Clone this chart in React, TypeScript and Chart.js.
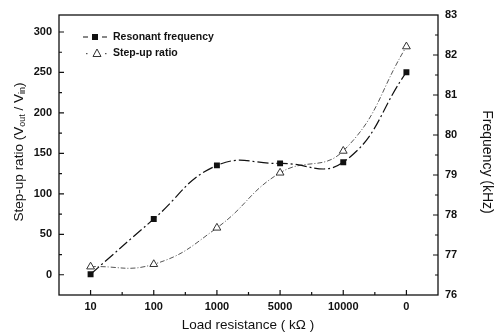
import React, { useEffect, useRef } from 'react';
import { Chart, registerables } from 'chart.js';

Chart.register(...registerables);

const categories = ['10', '100', '1000', '5000', '10000', '0'];
const stepUpRatio = [10, 13, 58, 126, 153, 282];
const resonantFrequency = [76.52, 77.9, 79.24, 79.29, 79.32, 81.57];
const leftTicks = [0, 50, 100, 150, 200, 250, 300];
const rightTicks = [76, 77, 78, 79, 80, 81, 82, 83];
const legendLabels = ['Resonant frequency', 'Step-up ratio'];
const xTitle = 'Load resistance ( k\u03A9 )';
const rightTitle = 'Frequency (kHz)';

const FONT = "'Liberation Sans', Arial, sans-serif";
const INK = '#111';

const decorPlugin = {
  id: 'decor',
  afterDraw(chart: any) {
    const ctx = chart.ctx as CanvasRenderingContext2D;
    const ca = chart.chartArea;
    const ys = chart.scales.y;
    const y1 = chart.scales.y1;
    const xs = chart.scales.x;
    ctx.save();
    // frame
    ctx.strokeStyle = INK;
    ctx.lineWidth = 1.3;
    ctx.setLineDash([]);
    ctx.strokeRect(ca.left, ca.top, ca.right - ca.left, ca.bottom - ca.top);
    // inward ticks
    ctx.lineWidth = 1.2;
    ctx.beginPath();
    for (let v = 0; v <= 300; v += 25) {
      const p = ys.getPixelForValue(v);
      const len = v % 50 === 0 ? 5 : 3;
      ctx.moveTo(ca.left, p);
      ctx.lineTo(ca.left + len, p);
    }
    for (let v = 76.5; v < 83; v += 0.5) {
      const p = y1.getPixelForValue(v);
      const len = Number.isInteger(v) ? 5 : 3;
      ctx.moveTo(ca.right - len, p);
      ctx.lineTo(ca.right, p);
    }
    for (let i = 0; i < categories.length; i++) {
      const p = xs.getPixelForValue(i);
      ctx.moveTo(p, ca.bottom);
      ctx.lineTo(p, ca.bottom - 5);
      if (i < categories.length - 1) {
        const m = (p + xs.getPixelForValue(i + 1)) / 2;
        ctx.moveTo(m, ca.bottom);
        ctx.lineTo(m, ca.bottom - 3);
      }
    }
    ctx.stroke();

    // legend
    ctx.fillStyle = INK;
    ctx.strokeStyle = INK;
    ctx.lineWidth = 1;
    ctx.beginPath();
    ctx.moveTo(83, 37); ctx.lineTo(88, 37);
    ctx.moveTo(102, 37); ctx.lineTo(107, 37);
    ctx.stroke();
    ctx.fillRect(92, 34, 6, 6);
    ctx.fillStyle = '#555';
    ctx.fillRect(86, 53, 1.5, 1.2);
    ctx.fillRect(105, 53, 1.5, 1.2);
    ctx.strokeStyle = '#333';
    ctx.beginPath();
    ctx.moveTo(97, 49);
    ctx.lineTo(101, 56.5);
    ctx.lineTo(93, 56.5);
    ctx.closePath();
    ctx.stroke();
    ctx.fillStyle = INK;
    ctx.font = `bold 10.5px ${FONT}`;
    ctx.textAlign = 'left';
    ctx.textBaseline = 'middle';
    ctx.fillText(legendLabels[0], 113, 37);
    ctx.fillText(legendLabels[1], 113, 53);

    // x title
    ctx.font = `13.5px ${FONT}`;
    ctx.textAlign = 'center';
    ctx.fillText(xTitle, 248, 325);

    // right title
    ctx.save();
    ctx.translate(487, 162);
    ctx.rotate(Math.PI / 2);
    ctx.font = `14px ${FONT}`;
    ctx.textAlign = 'center';
    ctx.textBaseline = 'middle';
    ctx.fillText(rightTitle, 0, 0);
    ctx.restore();

    // left title with subscripts
    const big = `13.5px ${FONT}`;
    const small = `9px ${FONT}`;
    const parts: [string, boolean][] = [
      ['Step-up ratio (V', false],
      ['out', true],
      [' / V', false],
      ['in', true],
      [')', false],
    ];
    let total = 0;
    const widths = parts.map(([t, sub]) => {
      ctx.font = sub ? small : big;
      const w = ctx.measureText(t).width;
      total += w;
      return w;
    });
    ctx.save();
    ctx.translate(19, 152);
    ctx.rotate(-Math.PI / 2);
    ctx.textAlign = 'left';
    ctx.textBaseline = 'middle';
    let x = -total / 2;
    parts.forEach(([t, sub], i) => {
      ctx.font = sub ? small : big;
      ctx.fillText(t, x, sub ? 4 : 0);
      x += widths[i];
    });
    ctx.restore();

    ctx.restore();
  },
};

export default function App() {
  const ref = useRef<HTMLCanvasElement | null>(null);
  useEffect(() => {
    if (!ref.current) return;
    const chart = new Chart(ref.current, {
      type: 'line',
      data: {
        labels: categories,
        datasets: [
          {
            label: legendLabels[0],
            data: resonantFrequency,
            yAxisID: 'y1',
            borderColor: INK,
            borderWidth: 1.2,
            borderDash: [11, 3, 2, 3],
            pointStyle: 'rect',
            pointRadius: 4.2,
            pointBackgroundColor: INK,
            pointBorderColor: INK,
            pointBorderWidth: 0,
            tension: 0.45,
            fill: false,
          },
          {
            label: legendLabels[1],
            data: stepUpRatio,
            yAxisID: 'y',
            borderColor: '#555',
            borderWidth: 1,
            borderDash: [5, 2, 1, 2],
            pointStyle: 'triangle',
            pointRadius: 4.5,
            pointBackgroundColor: '#fff',
            pointBorderColor: '#333',
            pointBorderWidth: 1,
            tension: 0.45,
            fill: false,
          },
        ],
      },
      options: {
        animation: false,
        responsive: false,
        maintainAspectRatio: false,
        layout: { padding: { top: 15, left: 0, right: 0, bottom: 0 } },
        plugins: {
          legend: { display: false },
          tooltip: { enabled: false },
        },
        scales: {
          x: {
            type: 'category',
            offset: true,
            grid: { display: false, drawTicks: false },
            border: { display: false },
            ticks: { color: INK, font: { family: FONT, size: 11, weight: 'bold' }, padding: 5, maxRotation: 0 },
            afterFit: (s: any) => { s.height = 38; },
          },
          y: {
            type: 'linear',
            position: 'left',
            min: -25,
            max: 321,
            grid: { display: false, drawTicks: false },
            border: { display: false },
            ticks: { color: INK, font: { family: FONT, size: 11, weight: 'bold' }, padding: 7 },
            afterBuildTicks: (s: any) => { s.ticks = leftTicks.map((v) => ({ value: v })); },
            afterFit: (s: any) => { s.width = 59; },
          },
          y1: {
            type: 'linear',
            position: 'right',
            min: 76,
            max: 83,
            grid: { display: false, drawTicks: false },
            border: { display: false },
            ticks: { color: INK, font: { family: FONT, size: 11, weight: 'bold' }, padding: 7 },
            afterBuildTicks: (s: any) => { s.ticks = rightTicks.map((v) => ({ value: v })); },
            afterFit: (s: any) => { s.width = 56; },
          },
        },
      },
      plugins: [decorPlugin],
    });
    return () => chart.destroy();
  }, []);
  return (
    <div style={{ position: 'absolute', left: 0, top: 0, width: 494, height: 333, background: '#fff' }}>
      <canvas ref={ref} width={494} height={333} style={{ width: 494, height: 333 }} />
    </div>
  );
}
